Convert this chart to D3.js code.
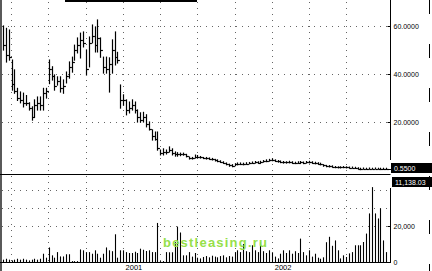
<!DOCTYPE html>
<html>
<head>
<meta charset="utf-8">
<script src="https://cdn.jsdelivr.net/npm/d3@7"></script>
<style>
  body { margin: 0; background: #fff; }
  svg { display: block; }
  text { font-family: "Liberation Sans", Arial, sans-serif; }
</style>
</head>
<body>
<div id="svg-area"></div>
<script>
var svgWidth = 432;
var svgHeight = 271;

// weekly bars, first week starts Monday 13 Mar 2000
var firstWeek = new Date(2000, 2, 13);
var lastWeek = new Date(2002, 9, 7);

var highs = [60.0, 59.0, 58.3, 45.8, 41.7, 34.0, 32.5, 32.0, 31.0, 28.0,
  26.3, 29.2, 30.4, 30.4, 34.0, 34.0, 45.8, 43.0, 39.6, 38.8,
  38.8, 37.5, 40.8, 45.0, 47.0, 52.0, 55.0, 57.0, 57.5, 50.0,
  55.4, 60.4, 59.6, 62.5, 55.0, 47.0, 47.0, 46.7, 54.2, 57.5,
  49.0, 35.4, 31.3, 29.2, 28.3, 29.2, 28.3, 25.0, 23.8, 24.0,
  23.0, 20.0, 16.7, 15.8, 15.8, 8.3, 8.8, 8.3, 9.6, 8.8,
  7.5, 7.2, 7.0, 7.0, 6.5, 5.4, 5.2, 6.2, 6.0, 5.6,
  5.2, 5.2, 5.0, 4.8, 4.4, 4.2, 3.8, 3.4, 2.9, 2.4,
  2.2, 2.6, 2.9, 2.9, 2.8, 3.0, 3.1, 3.3, 3.5, 3.4,
  3.6, 3.9, 4.2, 4.4, 4.6, 4.2, 3.9, 3.7, 3.5, 3.4,
  3.6, 3.4, 3.2, 3.4, 3.5, 3.3, 3.5, 3.6, 3.4, 3.2,
  3.0, 2.8, 2.2, 1.9, 1.8, 1.7, 1.4, 1.3, 1.3, 1.4,
  1.3, 1.2, 1.2, 1.1, 0.9, 0.7, 0.8, 0.7, 0.8, 0.7,
  0.8, 0.7, 0.7, 0.7, 0.7];

var lows = [50.0, 45.0, 45.8, 33.3, 32.0, 29.0, 28.0, 26.3, 27.0, 25.0,
  20.8, 22.0, 25.0, 25.0, 25.0, 30.0, 36.0, 37.5, 33.3, 35.4,
  32.5, 32.0, 36.3, 38.3, 40.8, 45.8, 48.8, 46.7, 51.3, 39.6,
  43.0, 53.0, 49.2, 49.2, 47.0, 40.4, 40.4, 32.5, 40.4, 43.8,
  44.6, 25.8, 27.0, 23.0, 23.8, 25.0, 23.8, 20.0, 20.0, 20.0,
  18.0, 16.7, 12.5, 12.5, 8.3, 6.3, 6.3, 6.7, 7.5, 6.3,
  5.8, 5.8, 6.0, 6.2, 5.5, 4.6, 4.6, 5.0, 5.2, 5.0,
  4.8, 4.6, 4.5, 4.2, 3.8, 3.5, 3.2, 2.8, 2.2, 1.6,
  1.4, 1.8, 2.2, 2.3, 2.2, 2.4, 2.6, 2.8, 2.9, 2.8,
  3.0, 3.3, 3.5, 3.7, 3.9, 3.6, 3.3, 3.1, 2.9, 2.9,
  3.0, 2.8, 2.7, 2.8, 2.9, 2.7, 2.9, 3.0, 2.8, 2.6,
  2.4, 2.2, 1.6, 1.4, 1.3, 1.2, 1.0, 0.9, 0.9, 1.0,
  0.9, 0.8, 0.8, 0.7, 0.4, 0.2, 0.4, 0.3, 0.4, 0.4,
  0.5, 0.4, 0.45, 0.5, 0.5];

var closes = [52, 48, 47, 36, 33, 30, 29, 28, 28, 26,
  22, 27, 28, 27, 32, 33, 42, 39, 35, 37,
  34, 35, 39, 43, 45, 50, 52, 54, 53, 42,
  53, 56, 52, 55, 50, 43, 42, 44, 50, 47,
  46, 29, 29, 25, 26, 27, 25, 22, 21, 22,
  19, 17, 14, 13, 9, 7, 7.5, 7.5, 8.5, 7,
  6.5, 6.5, 6.5, 6.6, 5.8, 5.0, 4.9, 5.6, 5.6, 5.3,
  5.0, 4.9, 4.7, 4.5, 4.1, 3.8, 3.5, 3.1, 2.5, 1.9,
  1.8, 2.3, 2.6, 2.6, 2.5, 2.7, 2.9, 3.1, 3.2, 3.1,
  3.3, 3.6, 3.9, 4.1, 4.2, 3.9, 3.6, 3.4, 3.2, 3.2,
  3.3, 3.1, 3.0, 3.1, 3.2, 3.0, 3.2, 3.3, 3.1, 2.9,
  2.7, 2.4, 1.9, 1.6, 1.5, 1.4, 1.2, 1.1, 1.1, 1.2,
  1.1, 1.0, 1.0, 0.9, 0.6, 0.5, 0.6, 0.5, 0.6, 0.55,
  0.6, 0.55, 0.55, 0.6, 0.55];

var volumes = [1300, 1800, 1300, 900, 1300, 1800, 1300, 1800, 1300, 900,
  1300, 1800, 1300, 1800, 4600, 2400, 8100, 3700, 2400, 5500,
  3100, 3100, 4300, 4300, 500, 500, 500, 7000, 6500, 5500,
  5500, 4600, 6500, 4600, 2400, 4600, 8100, 6500, 6000, 15400,
  2400, 6500, 6500, 5500, 5000, 5000, 5700, 5000, 7400, 6800,
  6100, 6500, 5500, 5500, 21700, 500, 500, 5500, 5400, 5400,
  11000, 19700, 16400, 3700, 3700, 5500, 3000, 5000, 2400, 2000,
  2800, 3300, 2600, 3500, 3000, 2600, 3300, 3700, 2600, 3300,
  3000, 5500, 6500, 5500, 10000, 6000, 5500, 9300, 6500, 5500,
  11000, 6000, 5000, 6500, 5400, 3000, 2000, 4600, 6500, 5000,
  6500, 4600, 6000, 5000, 13000, 5500, 3700, 6500, 3000, 4600,
  2400, 1800, 2600, 11000, 14000, 9000, 12000, 6500, 2000, 3700,
  2800, 4800, 5500, 9300, 9300, 9300, 11100, 15800, 27000, 41600,
  27000, 24200, 29800, 12000, 5500];

var priceTicks = [20, 40, 60];
var volumeTicks = [0, 20000];
var volumeGrid = [20000, 30000, 40000];
var lastPriceLabel = "0.5500";
var lastVolumeLabel = "11,138.03";
var watermark = "bestleasing.ru";

var weeks = d3.timeMonday.range(firstWeek, d3.timeDay.offset(lastWeek, 1));
var bars = weeks.map(function(d, i) {
  return { date: d, high: highs[i], low: lows[i], close: closes[i], volume: volumes[i] };
});

var svg = d3.select("#svg-area")
  .append("svg")
  .attr("width", svgWidth)
  .attr("height", svgHeight);

var axisX = 390.5;

var xScale = d3.scaleTime()
  .domain([firstWeek, lastWeek])
  .range([3, 386.2]);

var yPrice = d3.scaleLinear()
  .domain([0, 60])
  .range([170, 26]);

var yVol = d3.scaleLinear()
  .domain([0, 20000])
  .range([262, 226]);

function px(v) { return Math.round(v) + 0.5; }

// dotted grid, sparse like the scan
var grid = svg.append("g")
  .attr("stroke", "#000")
  .attr("stroke-width", 1)
  .attr("stroke-dasharray", "1,5")
  .attr("opacity", 0.6);

grid.selectAll(".vg")
  .data(xScale.ticks(d3.timeMonth.every(3)).filter(d => xScale(d) < 380))
  .enter().append("line")
  .attr("x1", d => px(xScale(d)))
  .attr("x2", d => px(xScale(d)))
  .attr("y1", 2)
  .attr("y2", 261);

grid.selectAll(".hp")
  .data(priceTicks)
  .enter().append("line")
  .attr("x1", 2).attr("x2", axisX)
  .attr("y1", d => px(yPrice(d)))
  .attr("y2", d => px(yPrice(d)));

grid.selectAll(".hv")
  .data(volumeGrid)
  .enter().append("line")
  .attr("x1", 2).attr("x2", axisX)
  .attr("y1", d => px(yVol(d)))
  .attr("y2", d => px(yVol(d)));

// price bars
var priceG = svg.append("g")
  .attr("stroke", "#000")
  .attr("stroke-width", 1.2);

priceG.selectAll(".hl")
  .data(bars)
  .enter().append("line")
  .attr("x1", d => px(xScale(d.date)))
  .attr("x2", d => px(xScale(d.date)))
  .attr("y1", d => yPrice(d.high) - 0.6)
  .attr("y2", d => yPrice(d.low) + 0.6);

priceG.selectAll(".cl")
  .data(bars)
  .enter().append("line")
  .attr("x1", d => px(xScale(d.date)))
  .attr("x2", d => px(xScale(d.date)) + 2.4)
  .attr("y1", d => px(yPrice(d.close)))
  .attr("y2", d => px(yPrice(d.close)));

// volume bars
svg.append("g")
  .attr("stroke", "#000")
  .attr("stroke-width", 1.1)
  .selectAll("line")
  .data(bars)
  .enter().append("line")
  .attr("x1", d => px(xScale(d.date)))
  .attr("x2", d => px(xScale(d.date)))
  .attr("y1", d => yVol(d.volume))
  .attr("y2", yVol(0));

// frame lines
svg.append("line")
  .attr("x1", 0).attr("x2", axisX)
  .attr("y1", 174.5).attr("y2", 174.5)
  .attr("stroke", "#000");

svg.append("line")
  .attr("x1", 1).attr("x2", 1)
  .attr("y1", 0).attr("y2", svgHeight)
  .attr("stroke", "#000").attr("stroke-width", 1.3);

svg.append("line")
  .attr("x1", 65).attr("x2", 197)
  .attr("y1", 1).attr("y2", 1)
  .attr("stroke", "#000").attr("stroke-width", 2);

svg.append("line")
  .attr("x1", 429.5).attr("x2", 429.5)
  .attr("y1", 0).attr("y2", svgHeight)
  .attr("stroke", "#000")
  .attr("stroke-dasharray", "14,30");

// right price axis
var priceAxis = svg.append("g")
  .attr("transform", "translate(" + axisX + ",0)")
  .call(d3.axisRight(yPrice)
    .tickValues(priceTicks)
    .tickSize(-3)
    .tickPadding(3)
    .tickFormat(d3.format(".4f")));

priceAxis.select(".domain")
  .attr("d", "M0,0V160");

var volAxis = svg.append("g")
  .attr("transform", "translate(" + axisX + ",0)")
  .call(d3.axisRight(yVol)
    .tickValues(volumeTicks)
    .tickSize(-3)
    .tickPadding(3)
    .tickFormat(d3.format(",")));

volAxis.select(".domain")
  .attr("d", "M0,188V263");

svg.selectAll(".tick text")
  .attr("font-size", 7)
  .attr("fill", "#000");

// bottom time axis
var timeAxis = svg.append("g")
  .attr("transform", "translate(0,262.5)")
  .call(d3.axisBottom(xScale)
    .ticks(d3.timeYear)
    .tickSize(0)
    .tickPadding(2)
    .tickFormat(d3.timeFormat("%Y")));

timeAxis.select(".domain")
  .attr("d", "M0,0H" + axisX);

timeAxis.selectAll("text")
  .attr("text-anchor", "start")
  .attr("dx", 2)
  .attr("font-size", 7.5);

// last value markers
svg.append("rect")
  .attr("x", 391).attr("y", 163)
  .attr("width", 41).attr("height", 10)
  .attr("fill", "#000");
svg.append("text")
  .attr("x", 394).attr("y", 171)
  .attr("font-size", 7)
  .attr("fill", "#fff")
  .text(lastPriceLabel);

svg.append("rect")
  .attr("x", 392).attr("y", 177)
  .attr("width", 40).attr("height", 10)
  .attr("fill", "#000");
svg.append("text")
  .attr("x", 395).attr("y", 185)
  .attr("font-size", 7)
  .attr("fill", "#fff")
  .text(lastVolumeLabel);

svg.append("line")
  .attr("x1", 381).attr("x2", 391)
  .attr("y1", px(yPrice(closes[closes.length - 1])))
  .attr("y2", px(yPrice(closes[closes.length - 1])))
  .attr("stroke", "#000");

// watermark
svg.append("text")
  .attr("x", 163)
  .attr("y", 247)
  .attr("font-family", "DejaVu Sans, sans-serif")
  .attr("font-weight", "bold")
  .attr("font-size", 13)
  .attr("textLength", 104)
  .attr("fill", "#96e04a")
  .text(watermark);
</script>
</body>
</html>
